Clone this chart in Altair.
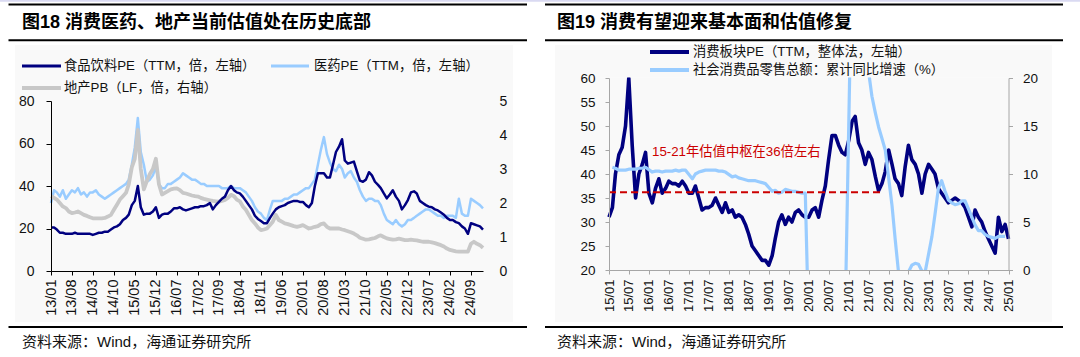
import altair as alt
import pandas as pd

FONT = "Liberation Sans, Noto Sans CJK SC, sans-serif"

# ---------------- Figure 18 (monthly, 2013-01 .. 2025-01) ----------------
L_START, L_END = "2013-01-01", "2025-01-01"
FB_PE = [
    20.5, 20.5, 19.5, 18, 18, 17.5, 17.5, 17.5, 18, 17.5, 17.5, 17.5,
    17.5, 17.5, 17, 17.5, 18, 18, 18.5, 18.5, 19.5, 20.5, 21, 22,
    24, 25, 26.5, 31, 33, 40, 30, 26.5, 27, 27, 28, 30,
    25, 26.5, 27, 27, 28, 29.5, 29.5, 30, 29, 28.5, 29, 29.5,
    30, 30, 30.5, 30.5, 31, 32, 29, 31, 32.5, 34, 35, 38,
    40, 38, 37, 36.5, 35, 33, 31, 29, 26, 24.5, 23.5, 22.5,
    22.5, 25, 27, 29, 30, 30.5, 31, 32, 32.5, 33, 33, 32.5,
    32.5, 31, 30, 32, 40, 46, 46, 46, 44, 44, 50, 56,
    58.5, 62, 52, 50.5, 51, 51.5, 47, 42.5, 42, 43, 46.5, 45,
    42, 40.5, 39, 36.5, 34.2, 36, 38, 35, 33, 29, 31, 33.4,
    37, 37.5, 36.5, 33, 32, 31, 30.3, 30, 29, 28.5, 27.5, 26.5,
    25, 24, 24, 23, 22.5, 21, 20, 17.5, 22.5, 22, 21.5, 21,
    19.5,
]
PHARMA_PE = [
    32, 38, 37, 35, 38, 34, 36, 38, 37, 39, 36, 37,
    35, 37, 37, 38, 36, 35, 34, 35, 36, 37, 38, 39,
    40, 41, 43, 50, 58, 72, 56, 50, 42, 43, 45, 49,
    41, 39, 39, 41, 41, 42, 43, 44, 46, 45, 44, 43,
    43, 42, 41, 41, 40, 40, 40, 40, 40, 39, 39, 39,
    40, 39, 39, 39, 38, 37, 35, 33, 30, 28, 27, 25,
    24, 29, 33, 33, 33, 33, 34, 34, 35, 36, 36, 37,
    38, 39, 39, 41, 43, 50, 57, 63, 55, 51, 48, 47,
    50, 48, 44, 46, 47, 44, 42, 38, 35, 33, 34, 34,
    33, 33, 31, 27, 24, 23, 22, 24, 22, 21, 22, 24,
    24, 25, 26, 27, 28, 29, 29, 28, 27, 26, 26, 25,
    26, 26, 26, 25, 34, 27, 26, 26, 34, 33, 32, 31,
    29.5,
]
REALTY_PB = [
    2.2, 2.15, 2.1, 2.0, 1.9, 1.85, 1.75, 1.7, 1.72, 1.75, 1.7, 1.65,
    1.62, 1.58, 1.55, 1.55, 1.55, 1.55, 1.56, 1.6, 1.65, 1.8, 1.95, 2.1,
    2.2, 2.3, 2.55, 3.05, 3.3, 4.15, 3.0, 2.4, 2.65, 2.85, 3.0, 3.3,
    2.55, 2.25, 2.3, 2.35, 2.4, 2.42, 2.43, 2.38, 2.3, 2.28, 2.25, 2.22,
    2.2, 2.19, 2.15, 2.12, 2.1, 2.08, 2.06, 2.05, 2.04, 2.06, 2.09, 2.15,
    2.24, 2.2, 2.1, 2.05, 1.9, 1.8, 1.65, 1.5, 1.4, 1.28, 1.2, 1.22,
    1.25, 1.35, 1.45, 1.65, 1.5, 1.45, 1.4, 1.38, 1.35, 1.32, 1.3, 1.32,
    1.35, 1.3, 1.25, 1.27, 1.3, 1.32, 1.38, 1.4, 1.3, 1.25, 1.25, 1.25,
    1.25, 1.22, 1.2, 1.17, 1.14, 1.1, 1.05, 0.98, 0.95, 0.92, 0.93, 0.95,
    0.97, 1.02, 1.05, 1.0, 0.96, 0.94, 0.92, 0.93, 0.95, 0.93, 0.91, 0.91,
    0.92, 0.91, 0.9, 0.88, 0.86, 0.86, 0.86, 0.84, 0.82, 0.79, 0.76, 0.72,
    0.66, 0.62, 0.6, 0.58, 0.57, 0.57, 0.57, 0.57, 0.8, 0.86, 0.8, 0.76,
    0.68,
]
L_TICKS = [
    "2013-01-01", "2013-08-01", "2014-03-01", "2014-10-01", "2015-05-01",
    "2015-12-01", "2016-07-01", "2017-02-01", "2017-09-01", "2018-04-01",
    "2018-11-01", "2019-06-01", "2020-01-01", "2020-08-01", "2021-03-01",
    "2021-10-01", "2022-05-01", "2022-12-01", "2023-07-01", "2024-02-01",
    "2024-09-01",
]
L_LEFT_TICKS = [0, 20, 40, 60, 80]
L_RIGHT_TICKS = [0, 1, 2, 3, 4, 5]

# ---------------- Figure 19 ----------------
R_START, R_END = "2015-01-01", "2025-01-01"
CONS_PE = [
    31, 33, 40, 44, 45.5, 50, 60, 46, 35, 40, 42, 44.5,
    36, 34, 37, 39, 36, 37, 38.5, 38, 38, 37.5, 38.5, 37.5,
    36, 36, 37.5, 35, 32.5, 33, 33, 33.5, 35, 33.5, 32, 34,
    32, 32.5, 31, 31.5, 31, 29.5, 27.5, 25, 24, 23, 22, 22,
    21, 23, 26.5, 30, 31.5, 29.5, 31, 30, 32, 32.5, 31.5, 31,
    31, 32.5, 33, 31, 34.5, 37.5, 43, 48, 48, 46, 44.5, 44,
    47, 51, 52, 46.5, 45, 42, 44.5, 43, 39.5, 36.5, 38, 40.5,
    45, 42, 39, 38, 35.5, 41.5, 46, 43, 42, 40, 36, 40,
    42, 41, 40, 37, 36, 35, 34, 34.5, 35, 34.5, 34, 33,
    31, 29, 32.5, 31, 30, 28, 26.5, 25, 23.5, 31, 28, 29.5,
    26.5,
]
# cumulative y/y growth, Feb..Dec of each year 2015..2024
RETAIL = [
    10.7, 10.6, 10.4, 10.4, 10.4, 10.5, 10.5, 10.5, 10.6, 10.6, 10.7,
    10.2, 10.3, 10.3, 10.2, 10.3, 10.3, 10.3, 10.4, 10.3, 10.4, 10.4,
    9.5, 10.0, 10.2, 10.3, 10.4, 10.4, 10.4, 10.4, 10.3, 10.3, 10.2,
    9.7, 9.8, 9.6, 9.5, 9.4, 9.3, 9.3, 9.3, 9.2, 9.1, 9.0,
    8.2, 8.3, 8.0, 8.1, 8.4, 8.3, 8.2, 8.2, 8.1, 8.0, 8.0,
    -20.5, -19.0, -16.2, -13.5, -11.4, -9.9, -8.6, -7.2, -5.9, -4.8, -3.9,
    33.8, 33.9, 29.6, 25.7, 23.0, 20.7, 18.1, 16.4, 14.9, 13.7, 12.5,
    6.7, 3.3, -0.2, -1.5, -0.7, -0.2, 0.5, 0.7, 0.6, -0.1, -0.2,
    3.5, 5.8, 8.5, 9.3, 8.2, 7.3, 7.0, 6.8, 6.9, 7.2, 7.2,
    5.5, 4.7, 4.1, 4.1, 3.7, 3.5, 3.4, 3.3, 3.5, 3.5, 3.5,
]
CENTER_DATES = ["2015-01-01", "2021-11-01"]
CENTER_VALUES = [36.2, 36.2]
R_TICKS = [
    "2015-01-01", "2015-07-01", "2016-01-01", "2016-07-01", "2017-01-01",
    "2017-07-01", "2018-01-01", "2018-07-01", "2019-01-01", "2019-07-01",
    "2020-01-01", "2020-07-01", "2021-01-01", "2021-07-01", "2022-01-01",
    "2022-07-01", "2023-01-01", "2023-07-01", "2024-01-01",
    "2024-07-01", "2025-01-01",
]
R_LEFT_TICKS = [20, 25, 30, 35, 40, 45, 50, 55, 60]
R_RIGHT_TICKS = [0, 5, 10, 15, 20]

TITLE_L = "图18 消费医药、地产当前估值处在历史底部"
TITLE_R = "图19 消费有望迎来基本面和估值修复"
LEG_FB = "食品饮料PE（TTM，倍，左轴）"
LEG_PH = "医药PE（TTM，倍，左轴）"
LEG_PB = "地产PB（LF，倍，右轴）"
LEG_CPE = "消费板块PE（TTM，整体法，左轴）"
LEG_RET = "社会消费品零售总额：累计同比增速（%）"
NOTE = "15-21年估值中枢在36倍左右"
SOURCE = "资料来源：Wind，海通证券研究所"

NAVY, LBLUE, GRAY, RED = "#000080", "#99CCFF", "#C8C8C8", "#CC0000"
BG = "#F9F9F9"
AX_GRAY = "#A6A6A6"
DATE_LABEL = "utcFormat(datum.value, '%y/%m')"


def ms(s):
    return int(pd.Timestamp(s, tz="UTC").timestamp() * 1000)


months_l = [d.strftime("%Y-%m-%d") for d in pd.date_range(L_START, L_END, freq="MS")]
dfL = pd.DataFrame({"date": months_l, "fb": FB_PE, "ph": PHARMA_PE, "pb": REALTY_PB})
months_r = [d.strftime("%Y-%m-%d") for d in pd.date_range(R_START, R_END, freq="MS")]
dfR = pd.DataFrame({"date": months_r, "pe": CONS_PE})
ret_months = [f"{y}-{m:02d}-01" for y in range(2015, 2025) for m in range(2, 13)]
dfRet = pd.DataFrame({"date": ret_months, "v": RETAIL})
dfC = pd.DataFrame({"date": CENTER_DATES, "v": CENTER_VALUES})

# ---- scales
xL = alt.Scale(type="utc", domain=[ms(L_START), ms(L_END)], range=[51, 483], nice=False)
yL = alt.Scale(domain=[0, 80], range=[271, 101], nice=False, zero=False)
yL2 = alt.Scale(domain=[0, 5], range=[271, 101], nice=False, zero=False)
xR = alt.Scale(type="utc", domain=[ms(R_START), ms(R_END)], range=[609, 1008.5], nice=False)
yR = alt.Scale(domain=[20, 60], range=[270, 78], nice=False, zero=False)
yR2 = alt.Scale(domain=[0, 20], range=[270, 78], nice=False, zero=False)

common_axis = dict(grid=False, title=None, zindex=1, labelFont=FONT, labelColor="#111",
                   labelOverlap=False, labelBound=False, labelFlush=False)

axXL = alt.Axis(orient="bottom", offset=-86, values=[ms(d) for d in L_TICKS], labelExpr=DATE_LABEL,
                labelAngle=270, labelFontSize=14.5, domainColor="#000",
                tickColor="#000", tickSize=4, labelPadding=4, **common_axis)
axYL = alt.Axis(orient="left", offset=-51, values=L_LEFT_TICKS, labelFontSize=14,
                domainColor="#000", tickColor="#000", tickSize=5, labelPadding=12, **common_axis)
axYL2 = alt.Axis(orient="right", offset=483 - 1080, values=L_RIGHT_TICKS, labelFontSize=14,
                 domain=False, ticks=False, tickSize=0, labelPadding=16, **common_axis)
axXR = alt.Axis(orient="bottom", offset=-87, values=[ms(d) for d in R_TICKS], labelExpr=DATE_LABEL,
                labelAngle=270, labelFontSize=13, domainColor=AX_GRAY,
                tickColor=AX_GRAY, tickSize=4, labelPadding=5, **common_axis)
axYR = alt.Axis(orient="left", offset=-609, values=R_LEFT_TICKS, labelFontSize=13.5,
                domainColor=AX_GRAY, tickColor=AX_GRAY, tickSize=4, labelPadding=10, **common_axis)
axYR2 = alt.Axis(orient="right", offset=1008.5 - 1080, values=R_RIGHT_TICKS, labelFontSize=13.5,
                 domainColor=AX_GRAY, tickColor=AX_GRAY, tickSize=4, labelPadding=10, **common_axis)


def series(df, field, color, width, xs, ys, xaxis=None, yaxis=None, dash=None):
    props = dict(color=color, strokeWidth=width, strokeJoin="round")
    if dash:
        props["strokeDash"] = dash
    return alt.Chart(df).mark_line(**props).encode(
        x=alt.X("date:T", scale=xs, axis=xaxis),
        y=alt.Y(f"{field}:Q", scale=ys, axis=yaxis),
    )


BLANK = alt.Data(values=[{}])


def rect(x1, x2, y1, y2, color):
    return alt.Chart(BLANK).mark_rect(color=color).encode(
        x=alt.value(x1), x2=alt.value(x2), y=alt.value(y1), y2=alt.value(y2))


def hrule(x1, x2, y, color, width):
    return alt.Chart(BLANK).mark_rule(color=color, strokeWidth=width).encode(
        x=alt.value(x1), x2=alt.value(x2), y=alt.value(y))


def label(txt, x, y, size, color="#111", weight="normal"):
    return alt.Chart(BLANK).mark_text(text=txt, align="left", baseline="middle", fontSize=size,
                                      font=FONT, color=color, fontWeight=weight).encode(
        x=alt.value(x), y=alt.value(y))


layers = [
    rect(15, 513, 45, 322, BG),
    rect(555, 1052, 45, 322, BG),
    # figure 18 lines
    series(dfL, "ph", LBLUE, 2.5, xL, yL),
    series(dfL, "pb", GRAY, 3.8, xL, yL2, yaxis=axYL2),
    series(dfL, "fb", NAVY, 2.5, xL, yL, xaxis=axXL, yaxis=axYL),
    # figure 19 lines
    series(dfR, "pe", NAVY, 3.6, xR, yR, xaxis=axXR, yaxis=axYR),
    series(dfRet, "v", LBLUE, 3.2, xR, yR2, yaxis=axYR2),
    # clip the retail line to the plot area
    rect(600, 1018, 0, 77.3, "white"),
    rect(600, 1018, 270.7, 357, "white"),
    rect(600, 1018, 45, 77.3, BG),
    rect(600, 1018, 270.7, 322, BG),
    series(dfC, "v", RED, 2.0, xR, yR, dash=[7, 4]),
    # frame rules
    rect(0, 1080, 0, 1.8, "#DADAF2"),
    hrule(8.5, 527, 4.5, "#000", 2),
    hrule(545, 1063, 4.5, "#000", 2),
    hrule(8.5, 527, 40.3, "#000", 2),
    hrule(545, 1063, 40.3, "#000", 2),
    hrule(8.5, 527, 327, "#000", 2),
    hrule(545, 1063, 327, "#000", 2),
    # titles
    label(TITLE_L, 22, 23, 18, "#000", "bold"),
    label(TITLE_R, 557, 23, 18, "#000", "bold"),
    # legends fig 18
    hrule(22, 61, 66, NAVY, 3),
    label(LEG_FB, 64, 66, 13.3),
    hrule(271, 309, 66, LBLUE, 3),
    label(LEG_PH, 314, 66, 13.3),
    hrule(22, 61, 88, GRAY, 4),
    label(LEG_PB, 64, 88, 13.3),
    # legends fig 19
    hrule(650, 689, 52, NAVY, 4),
    label(LEG_CPE, 693, 52, 13.3),
    hrule(650, 689, 70, LBLUE, 4),
    label(LEG_RET, 693, 70, 13.3),
    # annotation
    label(NOTE, 652, 152, 13.3, RED),
    # sources
    label(SOURCE, 22, 342, 15),
    label(SOURCE, 557, 342, 15),
]

chart = (
    alt.layer(*layers)
    .resolve_scale(x="independent", y="independent")
    .properties(width=1080, height=357, autosize=alt.AutoSizeParams(type="none"), padding=0,
                background="white")
    .configure_view(strokeWidth=0)
)

chart.save("out.html", embed_options={"renderer": "svg", "actions": False})
